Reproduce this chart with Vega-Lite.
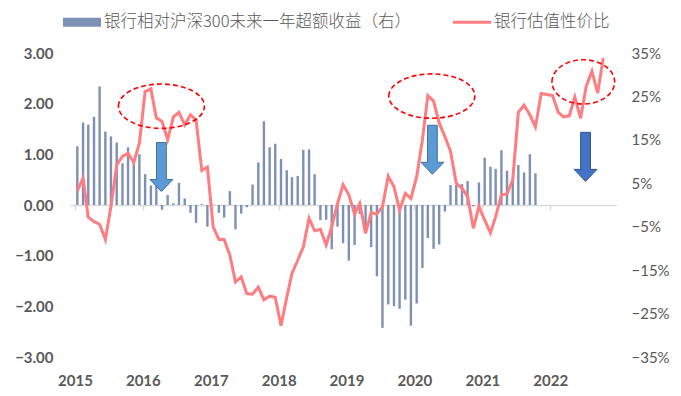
{
  "$schema": "https://vega.github.io/schema/vega-lite/v6.json",
  "width": 546,
  "height": 304,
  "autosize": {"type": "none"},
  "padding": {"left": 70, "top": 53, "right": 65, "bottom": 39},
  "background": "white",
  "config": {"view": {"stroke": null}, "font": "Lato", "axis": {"grid": false}},
  "datasets": {
    "monthly": [
      {"d": "2015-01-01", "bar": 0.135, "val": 0.28},
      {"d": "2015-02-01", "bar": 0.190, "val": 0.53},
      {"d": "2015-03-01", "bar": 0.185, "val": -0.24},
      {"d": "2015-04-01", "bar": 0.203, "val": -0.33},
      {"d": "2015-05-01", "bar": 0.273, "val": -0.38},
      {"d": "2015-06-01", "bar": 0.169, "val": -0.68},
      {"d": "2015-07-01", "bar": 0.158, "val": -0.03},
      {"d": "2015-08-01", "bar": 0.144, "val": 0.79},
      {"d": "2015-09-01", "bar": 0.096, "val": 0.96},
      {"d": "2015-10-01", "bar": 0.133, "val": 1.02},
      {"d": "2015-11-01", "bar": 0.097, "val": 0.84},
      {"d": "2015-12-01", "bar": 0.117, "val": 1.22},
      {"d": "2016-01-01", "bar": 0.071, "val": 2.24},
      {"d": "2016-02-01", "bar": 0.045, "val": 2.29},
      {"d": "2016-03-01", "bar": 0.044, "val": 1.72},
      {"d": "2016-04-01", "bar": -0.011, "val": 1.65},
      {"d": "2016-05-01", "bar": 0.023, "val": 1.29},
      {"d": "2016-06-01", "bar": 0.004, "val": 1.74},
      {"d": "2016-07-01", "bar": 0.051, "val": 1.83},
      {"d": "2016-08-01", "bar": 0.015, "val": 1.58},
      {"d": "2016-09-01", "bar": -0.018, "val": 1.78},
      {"d": "2016-10-01", "bar": -0.041, "val": 1.68},
      {"d": "2016-11-01", "bar": 0.002, "val": 0.68},
      {"d": "2016-12-01", "bar": -0.050, "val": 0.75},
      {"d": "2017-01-01", "bar": 0.001, "val": -0.43},
      {"d": "2017-02-01", "bar": -0.018, "val": -0.68},
      {"d": "2017-03-01", "bar": -0.029, "val": -0.68},
      {"d": "2017-04-01", "bar": 0.032, "val": -0.99},
      {"d": "2017-05-01", "bar": -0.056, "val": -1.52},
      {"d": "2017-06-01", "bar": -0.020, "val": -1.42},
      {"d": "2017-07-01", "bar": -0.005, "val": -1.75},
      {"d": "2017-08-01", "bar": 0.047, "val": -1.76},
      {"d": "2017-09-01", "bar": 0.098, "val": -1.62},
      {"d": "2017-10-01", "bar": 0.193, "val": -1.87},
      {"d": "2017-11-01", "bar": 0.133, "val": -1.80},
      {"d": "2017-12-01", "bar": 0.141, "val": -1.82},
      {"d": "2018-01-01", "bar": 0.106, "val": -2.38},
      {"d": "2018-02-01", "bar": 0.080, "val": -1.82},
      {"d": "2018-03-01", "bar": 0.064, "val": -1.35},
      {"d": "2018-04-01", "bar": 0.067, "val": -1.09},
      {"d": "2018-05-01", "bar": 0.127, "val": -0.83},
      {"d": "2018-06-01", "bar": 0.128, "val": -0.26},
      {"d": "2018-07-01", "bar": 0.071, "val": -0.51},
      {"d": "2018-08-01", "bar": -0.035, "val": -0.48},
      {"d": "2018-09-01", "bar": -0.034, "val": -0.79},
      {"d": "2018-10-01", "bar": -0.102, "val": -0.43},
      {"d": "2018-11-01", "bar": -0.050, "val": 0.03},
      {"d": "2018-12-01", "bar": -0.088, "val": 0.40},
      {"d": "2019-01-01", "bar": -0.128, "val": 0.20},
      {"d": "2019-02-01", "bar": -0.092, "val": -0.18},
      {"d": "2019-03-01", "bar": -0.021, "val": 0.03},
      {"d": "2019-04-01", "bar": -0.063, "val": -0.56},
      {"d": "2019-05-01", "bar": -0.097, "val": -0.15},
      {"d": "2019-06-01", "bar": -0.164, "val": -0.18},
      {"d": "2019-07-01", "bar": -0.283, "val": -0.03},
      {"d": "2019-08-01", "bar": -0.229, "val": 0.57},
      {"d": "2019-09-01", "bar": -0.233, "val": 0.36},
      {"d": "2019-10-01", "bar": -0.239, "val": -0.10},
      {"d": "2019-11-01", "bar": -0.218, "val": 0.23},
      {"d": "2019-12-01", "bar": -0.278, "val": 0.13},
      {"d": "2020-01-01", "bar": -0.227, "val": 0.56},
      {"d": "2020-02-01", "bar": -0.145, "val": 1.29},
      {"d": "2020-03-01", "bar": -0.076, "val": 2.16},
      {"d": "2020-04-01", "bar": -0.101, "val": 2.05},
      {"d": "2020-05-01", "bar": -0.091, "val": 1.62},
      {"d": "2020-06-01", "bar": -0.015, "val": 1.35},
      {"d": "2020-07-01", "bar": 0.046, "val": 1.06},
      {"d": "2020-08-01", "bar": 0.046, "val": 0.43},
      {"d": "2020-09-01", "bar": 0.048, "val": 0.33},
      {"d": "2020-10-01", "bar": 0.055, "val": 0.17},
      {"d": "2020-11-01", "bar": -0.003, "val": -0.46},
      {"d": "2020-12-01", "bar": 0.052, "val": -0.03},
      {"d": "2021-01-01", "bar": 0.109, "val": -0.30},
      {"d": "2021-02-01", "bar": 0.088, "val": -0.55},
      {"d": "2021-03-01", "bar": 0.083, "val": -0.23},
      {"d": "2021-04-01", "bar": 0.126, "val": 0.20},
      {"d": "2021-05-01", "bar": 0.079, "val": 0.22},
      {"d": "2021-06-01", "bar": 0.056, "val": 0.50},
      {"d": "2021-07-01", "bar": 0.092, "val": 1.83},
      {"d": "2021-08-01", "bar": 0.075, "val": 1.97},
      {"d": "2021-09-01", "bar": 0.117, "val": 1.78},
      {"d": "2021-10-01", "bar": 0.073, "val": 1.54},
      {"d": "2021-11-01", "val": 2.20},
      {"d": "2021-12-01", "val": 2.18},
      {"d": "2022-01-01", "val": 2.16},
      {"d": "2022-02-01", "val": 1.83},
      {"d": "2022-03-01", "val": 1.74},
      {"d": "2022-04-01", "val": 1.76},
      {"d": "2022-05-01", "val": 2.13},
      {"d": "2022-06-01", "val": 1.71},
      {"d": "2022-07-01", "val": 2.34},
      {"d": "2022-08-01", "val": 2.64},
      {"d": "2022-09-01", "val": 2.21},
      {"d": "2022-10-01", "val": 2.90}
    ]
  },
  "layer": [
    {
      "data": {"name": "monthly"},
      "transform": [{"filter": "isValid(datum.bar)"}],
      "mark": {"type": "bar", "size": 2.4, "xOffset": 2.3},
      "encoding": {
        "x": {
          "field": "d", "type": "temporal",
          "scale": {"type": "utc", "domain": [{"year": 2015, "month": 1, "date": 1, "utc": true}, {"year": 2022, "month": 11, "date": 24, "utc": true}]},
          "axis": {"orient": "bottom", "title": null, "format": "%Y", "tickCount": {"interval": "year", "step": 1}, "domain": false, "ticks": false, "labelPadding": 16, "labelFont": "Lato", "labelFontWeight": "bold", "labelFontSize": 15, "labelColor": "#595959", "labelAlign": "center", "labelFlush": false, "labelOverlap": false}
        },
        "y": {
          "field": "bar", "type": "quantitative",
          "scale": {"domain": [-0.35, 0.35], "nice": false, "zero": false},
          "axis": {"orient": "right", "title": null, "values": [-0.35, -0.25, -0.15, -0.05, 0.05, 0.15, 0.25, 0.35], "format": ".0%", "domain": false, "ticks": false, "labelPadding": 15, "labelFont": "Lato", "labelFontSize": 15, "labelColor": "#595959"}
        },
        "color": {
          "datum": "银行相对沪深300未来一年超额收益（右）",
          "scale": {"domain": ["银行相对沪深300未来一年超额收益（右）", "银行估值性价比"], "range": ["#7f90b5", "#ff7c80"]},
          "legend": {
            "title": null, "orient": "none", "legendX": -7, "legendY": -50, "direction": "horizontal", "padding": 0,
            "labelFont": "Noto Sans CJK SC", "labelFontSize": 16.5, "labelFontWeight": 300, "labelColor": "#595959", "labelLimit": 0,
            "symbolSize": 1444, "labelOffset": 3, "columnPadding": 42, "symbolStrokeWidth": 0,
            "encode": {"symbols": {"update": {
              "shape": {"signal": "datum.value === '银行估值性价比' ? 'M-1,-0.08L1,-0.08L1,0.08L-1,0.08Z' : 'M-1,-0.24L1,-0.24L1,0.24L-1,0.24Z'"},
              "fill": {"signal": "datum.value === '银行估值性价比' ? '#ff7c80' : '#7f90b5'"},
              "opacity": {"value": 1},
              "fillOpacity": {"value": 1},
              "strokeWidth": {"value": 0}
            }}}
          }
        }
      }
    },
    {
      "data": {"name": "monthly"},
      "mark": {"type": "line", "strokeWidth": 3, "xOffset": 2.3},
      "encoding": {
        "x": {
          "field": "d", "type": "temporal",
          "scale": {"type": "utc", "domain": [{"year": 2015, "month": 1, "date": 1, "utc": true}, {"year": 2022, "month": 11, "date": 24, "utc": true}]},
          "axis": {"orient": "bottom", "offset": -152, "title": null, "labels": false, "tickCount": {"interval": "year", "step": 1}, "domain": true, "domainColor": "#d9d9d9", "domainWidth": 1.5, "ticks": true, "tickColor": "#d9d9d9", "tickWidth": 1.5, "tickSize": 5}
        },
        "y": {
          "field": "val", "type": "quantitative",
          "scale": {"domain": [-3, 3], "nice": false, "zero": false},
          "axis": {"orient": "left", "title": null, "values": [-3, -2, -1, 0, 1, 2, 3], "format": ".2f", "domain": false, "ticks": false, "labelPadding": 17, "labelFont": "Lato", "labelFontWeight": "bold", "labelFontSize": 15, "labelColor": "#595959"}
        },
        "color": {"datum": "银行估值性价比"}
      }
    },
    {
      "data": {"values": [{"d": "2016-04-10", "level": 1.95}, {"d": "2020-04-04", "level": 2.15}]},
      "mark": {"type": "point", "shape": "M-1,0A1,0.515 0 1,1 1,0A1,0.515 0 1,1 -1,0Z", "size": 7396, "filled": false, "color": "#ff0000", "strokeWidth": 1.6, "strokeDash": [5, 3], "opacity": 1},
      "encoding": {
        "x": {"field": "d", "type": "temporal", "scale": {"type": "utc", "domain": [{"year": 2015, "month": 1, "date": 1, "utc": true}, {"year": 2022, "month": 11, "date": 24, "utc": true}]}, "axis": null},
        "y": {"field": "level", "type": "quantitative", "scale": {"domain": [-3, 3], "nice": false, "zero": false}, "axis": null}
      }
    },
    {
      "data": {"values": [{"d": "2022-06-28", "level": 2.43}]},
      "mark": {"type": "point", "shape": "M-1,0A1,0.707 0 1,1 1,0A1,0.707 0 1,1 -1,0Z", "size": 3931, "filled": false, "color": "#ff0000", "strokeWidth": 1.6, "strokeDash": [5, 3], "opacity": 1},
      "encoding": {
        "x": {"field": "d", "type": "temporal", "scale": {"type": "utc", "domain": [{"year": 2015, "month": 1, "date": 1, "utc": true}, {"year": 2022, "month": 11, "date": 24, "utc": true}]}, "axis": null},
        "y": {"field": "level", "type": "quantitative", "scale": {"domain": [-3, 3], "nice": false, "zero": false}, "axis": null}
      }
    },
    {
      "data": {"values": [{"d": "2016-04-10", "level": 0.75}, {"d": "2020-04-07", "level": 1.09}]},
      "mark": {"type": "point", "shape": "M-0.2,-1L0.2,-1L0.2,0.51L0.47,0.51L0,1L-0.47,0.51L-0.2,0.51Z", "size": 2401, "filled": true, "fill": "#5b9bd5", "stroke": "#41719c", "strokeWidth": 1, "opacity": 1},
      "encoding": {
        "x": {"field": "d", "type": "temporal", "scale": {"type": "utc", "domain": [{"year": 2015, "month": 1, "date": 1, "utc": true}, {"year": 2022, "month": 11, "date": 24, "utc": true}]}, "axis": null},
        "y": {"field": "level", "type": "quantitative", "scale": {"domain": [-3, 3], "nice": false, "zero": false}, "axis": null}
      }
    },
    {
      "data": {"values": [{"d": "2022-07-10", "level": 0.95}]},
      "mark": {"type": "point", "shape": "M-0.2,-1L0.2,-1L0.2,0.51L0.47,0.51L0,1L-0.47,0.51L-0.2,0.51Z", "size": 2401, "filled": true, "fill": "#4472c4", "stroke": "#2f528f", "strokeWidth": 1, "opacity": 1},
      "encoding": {
        "x": {"field": "d", "type": "temporal", "scale": {"type": "utc", "domain": [{"year": 2015, "month": 1, "date": 1, "utc": true}, {"year": 2022, "month": 11, "date": 24, "utc": true}]}, "axis": null},
        "y": {"field": "level", "type": "quantitative", "scale": {"domain": [-3, 3], "nice": false, "zero": false}, "axis": null}
      }
    }
  ],
  "resolve": {"scale": {"y": "independent"}, "axis": {"x": "independent"}}
}
